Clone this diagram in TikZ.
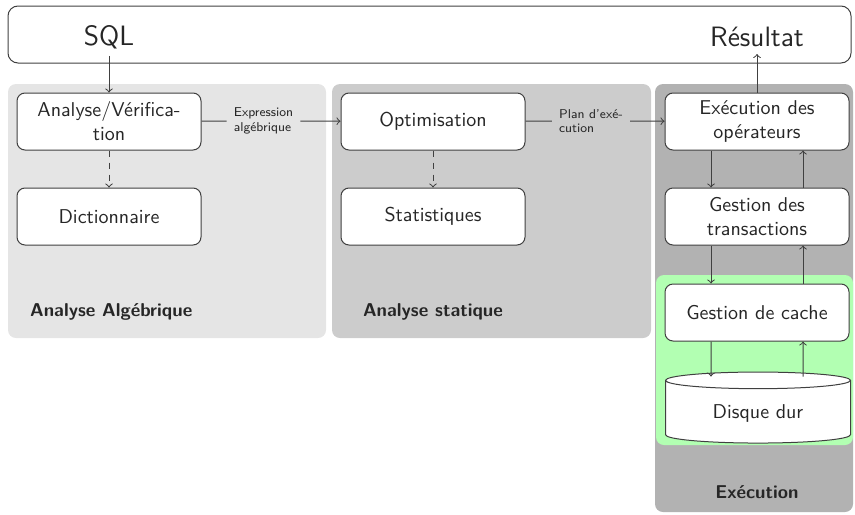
\documentclass[tikz,border=0pt]{standalone}
\usepackage[dvipsnames]{xcolor}
\usepackage{tikz}
\usetikzlibrary{shapes.geometric}

\begin{document}
\begin{tikzpicture}[x=0.5pt, y=-0.5pt, line width=0.5pt, color=black!75, text=black!85,
  box/.style={draw, fill=white, rounded corners=4pt, minimum width=92pt, minimum height=28.5pt, align=center, font=\sffamily},
  lbl/.style={font=\sffamily\fontsize{6.4}{7.2}\selectfont, align=left},
  grp/.style={font=\sffamily\bfseries\fontsize{9.3}{11}\selectfont},
  big/.style={font=\sffamily\fontsize{14}{16}\selectfont}]

\useasboundingbox (0,0) rectangle (855,514);

% draw grey areas
\fill[black!10, rounded corners=4pt] (8,84) rectangle (326,338);
\fill[black!20, rounded corners=4pt] (332,84) rectangle (651,338);
\fill[black!30, rounded corners=4pt] (655,84) rectangle (853,512);
\fill[green!30, rounded corners=4pt] (656,275) rectangle (853,445);

% draw outer frame
\draw[rounded corners=5pt] (8,6) rectangle (851,63);
\node[big] (sql) at (109,37) {SQL};
\node[big] (resultat) at (757,37) {Résultat};

% draw boxes
\node[box] (analyse) at (109,121.5) {Analyse/Vérifica-\\tion};
\node[box] (dico) at (109,216.5) {Dictionnaire};
\node[box] (optim) at (433,121.5) {Optimisation};
\node[box] (stats) at (433,216.5) {Statistiques};
\node[box] (exec) at (757,121.5) {Exécution des\\opérateurs};
\node[box] (trans) at (757,216.5) {Gestion des\\transactions};
\node[box] (cache) at (757,312.5) {Gestion de cache};
\node[cylinder, shape border rotate=90, draw, fill=white, aspect=0.16,
      minimum width=92.5pt, minimum height=35.5pt, font=\sffamily] (disque) at (758,413.5) {Disque dur};

% draw labels
\node[lbl] (expr) at (263.5,121) {Expression\\algébrique};
\node[lbl] (plan) at (591,121) {Plan d'exé-\\cution};
\node[grp, anchor=west] (lblalg) at (23,312) {Analyse Algébrique};
\node[grp] (lblstat) at (433,312) {Analyse statique};
\node[grp] (lblexec) at (757,492) {Exécution};

% draw arrows
\draw[->] (sql) -- (analyse);
\draw (analyse) -- (expr);
\draw[->] (expr) -- (optim);
\draw (optim) -- (plan);
\draw[->] (plan) -- (exec);
\draw[->] (exec) -- (resultat);
\draw[->, dashed] (analyse) -- (dico);
\draw[->, dashed] (optim) -- (stats);

\draw[->] ([xshift=-23pt]exec.south) -- ([xshift=-23pt]trans.north);
\draw[->] ([xshift=23pt]trans.north) -- ([xshift=23pt]exec.south);
\draw[->] ([xshift=-23pt]trans.south) -- ([xshift=-23pt]cache.north);
\draw[->] ([xshift=23pt]cache.north) -- ([xshift=23pt]trans.south);
\draw[->] ([xshift=-23pt]cache.south) -- ([xshift=-23.5pt, yshift=-2.5pt]disque.north);
\draw[->] ([xshift=22.5pt, yshift=-2.5pt]disque.north) -- ([xshift=23pt]cache.south);

\end{tikzpicture}
\end{document}
